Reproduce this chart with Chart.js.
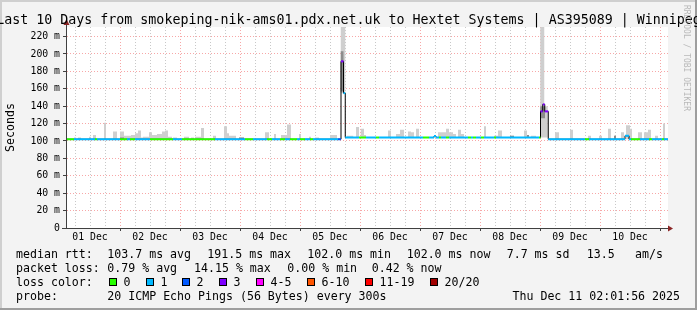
<!DOCTYPE html>
<html>
<head>
<meta charset="utf-8">
<script src="https://cdn.jsdelivr.net/npm/chart.js@4/dist/chart.umd.min.js"></script>
<style>
  html, body { margin: 0; padding: 0; background: #f3f3f3; }
  canvas { display: block; }
</style>
</head>
<body>
<canvas id="chart" width="697" height="310"></canvas>
<script>
// time axis = hours since 01 Dec 00:00
const xStart = 2.8;
const xEnd = 243.2;
const dayLabels = ['01 Dec', '02 Dec', '03 Dec', '04 Dec', '05 Dec', '06 Dec', '07 Dec', '08 Dec', '09 Dec', '10 Dec'];

// median rtt in ms, each value holds until the next hour mark
const medHours = [2.8, 5.6, 14.0, 14.8, 24.0, 26.8, 28.0, 30.0, 36.0, 45.2,
  48.8, 62.0, 74.0, 77.2, 82.8, 84.8, 88.0, 90.0, 92.0, 94.8,
  96.0, 98.0, 100.0, 101.2, 111.2, 112.4, 113.4, 114.1, 119.6, 122.4,
  126.4, 127.6, 145.2, 147.6, 149.6, 150.4, 151.6, 152.4, 154.4, 155.6,
  163.2, 164.4, 165.2, 166.4, 168.4, 169.6, 173.6, 174.4, 191.6, 192.2,
  193.1, 193.9, 195.3, 210.0, 211.6, 226.0, 227.6, 228.4, 232.0, 235.6,
  236.8, 240.8, 241.6];
const medValues = [102, 102, 102, 102, 102, 102, 102, 102, 102, 102,
  102, 102, 102, 102, 102, 102, 102, 102, 102, 102,
  102, 102, 102, 102, 102, 191.5, 155, 104, 104, 104,
  104, 104, 104, 104, 105.6, 104, 104, 104, 104, 104,
  104, 104, 104, 104, 104, 104, 104, 104, 104, 134,
  142, 134, 102, 102, 102, 106, 102, 102, 102, 102,
  102, 102, 102];
// packet loss bucket per step (index into lossColors)
const medLoss = [0, 1, 0, 1, 0, 1, 0, 1, 0, 1,
  0, 1, 0, 1, 0, 1, 0, 1, 0, 1,
  0, 1, 0, 1, 2, 3, 1, 1, 0, 1,
  0, 1, 0, 1, 1, 1, 0, 1, 0, 1,
  0, 1, 0, 1, 0, 1, 0, 1, 0, 3,
  3, 3, 1, 0, 1, 1, 1, 0, 1, 0,
  1, 0, 1];

// smoke (spread of the 20 pings), light layer
const smokeFrom = [5.6, 7.2, 11.6, 13.2, 17.6, 21.2, 24.0, 25.6, 28.4, 30.0,
  31.2, 32.4, 33.2, 35.6, 36.8, 38.8, 40.8, 42.0, 43.2, 45.2,
  49.6, 52.4, 54.0, 56.4, 61.2, 65.6, 66.8, 67.6, 71.6, 82.0,
  85.6, 88.4, 90.8, 95.6, 99.6, 102.0, 108.0, 112.3, 114.7, 118.4,
  120.3, 121.6, 131.2, 134.4, 136.0, 139.2, 140.4, 142.4, 151.2, 154.4,
  155.6, 157.2, 159.2, 160.4, 169.6, 173.6, 175.2, 180.0, 185.6, 186.8,
  188.4, 192.1, 193.7, 198.0, 204.0, 211.2, 215.6, 219.2, 221.6, 224.4,
  226.4, 228.0, 231.2, 233.6, 235.2, 238.0, 241.2];
const smokeTo = [6.4, 8.4, 12.4, 14.4, 18.4, 22.8, 25.6, 28.4, 30.0, 31.2,
  32.4, 33.2, 35.6, 36.8, 38.8, 40.8, 42.0, 43.2, 44.8, 46.8,
  51.6, 53.6, 56.4, 57.6, 62.4, 66.8, 67.6, 70.4, 73.6, 83.6,
  86.4, 90.8, 92.4, 96.4, 100.4, 103.6, 110.8, 114.1, 117.3, 119.6,
  121.6, 122.4, 132.4, 136.0, 137.6, 140.4, 141.6, 143.6, 154.4, 155.6,
  157.2, 158.4, 160.4, 161.6, 170.4, 175.2, 176.8, 181.6, 186.8, 187.6,
  190.4, 193.7, 195.1, 199.6, 205.2, 212.4, 216.8, 220.4, 222.4, 225.6,
  228.0, 228.8, 232.8, 235.2, 236.4, 239.2, 242.0];
const smokeLow = [102, 102, 102, 102, 102, 102, 102, 102, 102, 102,
  102, 102, 102, 102, 102, 102, 102, 102, 102, 102,
  102, 102, 102, 102, 102, 102, 102, 102, 102, 102,
  102, 102, 102, 102, 102, 102, 102, 155, 104, 104,
  104, 104, 104, 104, 104, 104, 104, 104, 104, 104,
  104, 104, 104, 104, 104, 104, 104, 104, 104, 104,
  104, 104, 104, 102, 102, 102, 102, 102, 102, 102,
  102, 102, 102, 102, 102, 102, 102];
const smokeTop = [104, 104, 105, 107, 121, 111, 111, 106, 107, 109,
  112, 104, 105, 110, 107, 108, 111, 112, 105, 104,
  105, 104, 105, 115, 106, 117, 109, 106, 104, 110,
  108, 107, 119, 108, 105, 104, 107, 232, 106, 116,
  114, 107, 112, 108, 113, 111, 110, 114, 110, 114,
  110, 108, 113, 108, 117, 106, 112, 106, 112, 107,
  106, 232, 140, 110, 113, 106, 106, 114, 106, 110,
  118, 114, 110, 110, 113, 106, 120];

// darker smoke near the median
const darkFrom = [24.0, 71.6, 112.3, 180.0, 186.8, 192.1, 221.6];
const darkTo = [25.6, 73.6, 113.4, 181.6, 187.6, 194.0, 222.4];
const darkLow = [102, 102, 157, 104, 104, 126, 102];
const darkTop = [104, 104, 203, 106, 107, 140, 106];

const lossColors = ['#26ff00', '#00b8ff', '#0059ff', '#7e00ff', '#ff00ff', '#ff5500', '#ff0000', '#a10000'];
const lossLabels = ['0', '1', '2', '3', '4-5', '6-10', '11-19', '20/20'];

const rttStats = ['103.7 ms avg', '191.5 ms max', '102.0 ms min', '102.0 ms now', '7.7 ms sd', '13.5', 'am/s'];
const lossStats = ['0.79 % avg', '14.15 % max', '0.00 % min', '0.42 % now'];
const titleText = 'Last 10 Days from smokeping-nik-ams01.pdx.net.uk to Hextet Systems | AS395089 | Winnipeg';
const probeText = '20 ICMP Echo Pings (56 Bytes) every 300s';
const stampText = 'Thu Dec 11 02:01:56 2025';

const MONO = '"DejaVu Sans Mono", monospace';

// outline of rectangles, used for the filled smoke layers
function boxLine(from, to, low, high) {
  const pts = [];
  from.forEach((f, i) => {
    const top = high ? high[i] : low[i];
    pts.push({ x: f, y: low[i] }, { x: f, y: top }, { x: to[i], y: top }, { x: to[i], y: low[i] });
  });
  return pts;
}

// each median step as its own horizontal piece
const runPts = [];
medHours.forEach((h, i) => {
  const end = i + 1 < medHours.length ? medHours[i + 1] : xEnd;
  runPts.push({ x: h, y: medValues[i] }, { x: end, y: medValues[i] });
});
const stepPts = medHours.map((h, i) => ({ x: h, y: medValues[i] }));
stepPts.push({ x: xEnd, y: medValues[medValues.length - 1] });

const deco = {
  id: 'deco',
  beforeDraw(chart) {
    const { ctx, chartArea: a } = chart;
    ctx.save();
    ctx.fillStyle = '#f3f3f3';
    ctx.fillRect(0, 0, chart.width, chart.height);
    ctx.fillStyle = '#cfcfcf';
    ctx.fillRect(0, 0, chart.width, 2);
    ctx.fillRect(0, 0, 2, chart.height);
    ctx.fillStyle = '#9e9e9e';
    ctx.fillRect(0, chart.height - 2, chart.width, 2);
    ctx.fillRect(chart.width - 2, 0, 2, chart.height);
    ctx.fillStyle = '#ffffff';
    ctx.fillRect(a.left, a.top, a.right - a.left, a.bottom - a.top);
    ctx.restore();
  },
  afterDatasetsDraw(chart) {
    const { ctx, chartArea: a } = chart;
    ctx.save();
    ctx.strokeStyle = '#404040';
    ctx.lineWidth = 1;
    ctx.beginPath();
    ctx.moveTo(a.left - 0.5, a.bottom + 0.5);
    ctx.lineTo(a.left - 0.5, a.top - 5);
    ctx.moveTo(a.left - 5, a.bottom + 0.5);
    ctx.lineTo(a.right + 2, a.bottom + 0.5);
    ctx.stroke();
    ctx.fillStyle = '#8b2525';
    ctx.beginPath();
    ctx.moveTo(a.left - 0.5, a.top - 8);
    ctx.lineTo(a.left - 3.5, a.top - 2);
    ctx.lineTo(a.left + 2.5, a.top - 2);
    ctx.fill();
    ctx.beginPath();
    ctx.moveTo(a.right + 5, a.bottom + 0.5);
    ctx.lineTo(a.right, a.bottom - 2.5);
    ctx.lineTo(a.right, a.bottom + 3.5);
    ctx.fill();
    ctx.restore();
  },
  afterDraw(chart) {
    const ctx = chart.ctx;
    ctx.save();
    ctx.fillStyle = '#000';
    ctx.textBaseline = 'alphabetic';
    ctx.font = '13.3px ' + MONO;
    ctx.textAlign = 'center';
    ctx.fillText(titleText, chart.width / 2, 24);

    ctx.textAlign = 'left';
    ctx.font = '11.6px ' + MONO;
    const rows = [257.5, 271.5, 285.5, 299.5];
    ctx.fillText('median rtt:', 16, rows[0]);
    [107.3, 207.3, 307.3, 406.7, 506.7, 586.7, 635].forEach((x, i) => ctx.fillText(rttStats[i], x, rows[0]));
    ctx.fillText('packet loss:', 16, rows[1]);
    [107.3, 194, 287.3, 371.7].forEach((x, i) => ctx.fillText(lossStats[i], x, rows[1]));
    ctx.fillText('loss color:', 16, rows[2]);
    [109, 146, 182, 219, 256, 307, 365, 430].forEach((x, i) => {
      ctx.fillStyle = lossColors[i];
      ctx.fillRect(x, 278, 8, 8);
      ctx.strokeStyle = '#000';
      ctx.lineWidth = 1;
      ctx.strokeRect(x + 0.5, 278.5, 7, 7);
      ctx.fillStyle = '#000';
      ctx.fillText(lossLabels[i], x + 14.5, rows[2]);
    });
    ctx.fillText('probe:', 16, rows[3]);
    ctx.fillText(probeText, 107.3, rows[3]);
    ctx.textAlign = 'right';
    ctx.fillText(stampText, 680, rows[3]);

    ctx.translate(686.5, 5);
    ctx.rotate(Math.PI / 2);
    ctx.textAlign = 'left';
    ctx.textBaseline = 'middle';
    ctx.font = '8px ' + MONO;
    ctx.fillStyle = '#b8b8b8';
    ctx.fillText('RRDTOOL / TOBI OETIKER', 0, 0);
    ctx.restore();
  }
};

new Chart(document.getElementById('chart'), {
  type: 'line',
  data: {
    datasets: [
      {
        data: runPts,
        borderWidth: 2,
        borderColor: lossColors[1],
        segment: {
          borderColor: c => c.p0DataIndex % 2 === 0 ? lossColors[medLoss[c.p0DataIndex / 2]] : 'rgba(0,0,0,0)'
        },
        fill: false,
        order: 0
      },
      {
        data: stepPts,
        stepped: 'before',
        borderWidth: 1,
        borderColor: '#000000',
        fill: false,
        order: 1
      },
      {
        data: boxLine(darkFrom, darkTo, darkLow, darkTop),
        borderColor: 'rgba(0,0,0,0)',
        backgroundColor: '#8c8c8c',
        fill: 3,
        order: 2
      },
      {
        data: boxLine(darkFrom, darkTo, darkLow, null),
        borderColor: 'rgba(0,0,0,0)',
        fill: false,
        order: 3
      },
      {
        data: boxLine(smokeFrom, smokeTo, smokeLow, smokeTop),
        borderColor: 'rgba(0,0,0,0)',
        backgroundColor: '#cfcfcf',
        fill: 5,
        order: 4
      },
      {
        data: boxLine(smokeFrom, smokeTo, smokeLow, null),
        borderColor: 'rgba(0,0,0,0)',
        fill: false,
        order: 5
      }
    ]
  },
  options: {
    responsive: false,
    animation: false,
    events: [],
    layout: { padding: { top: 27, right: 29, left: 0, bottom: 0 } },
    elements: { point: { radius: 0 }, line: { tension: 0, borderCapStyle: 'butt' } },
    plugins: {
      legend: { display: false },
      tooltip: { enabled: false },
      title: { display: false }
    },
    scales: {
      x: {
        type: 'linear',
        min: xStart,
        max: xEnd,
        afterFit: s => { s.height = 82; },
        afterBuildTicks: s => {
          const t = [];
          for (let h = 6; h <= 240; h += 6) t.push({ value: h });
          s.ticks = t;
        },
        ticks: {
          autoSkip: false,
          maxRotation: 0,
          padding: 1,
          color: '#000',
          font: { family: MONO, size: 9.8 },
          callback: v => v % 24 === 12 ? dayLabels[(v - 12) / 24] : ''
        },
        grid: {
          color: c => c.tick && c.tick.value % 24 === 0 ? 'rgba(240,80,80,0.5)' : '#c8c8c8',
          tickColor: c => c.tick && c.tick.value % 24 === 0 ? '#404040' : 'rgba(0,0,0,0)',
          tickLength: 3,
          lineWidth: 1
        },
        border: { display: false, dash: [1, 2] }
      },
      y: {
        min: 0,
        max: 231,
        afterFit: s => { s.width = 67; },
        afterBuildTicks: s => {
          const t = [];
          for (let v = 0; v <= 220; v += 10) t.push({ value: v });
          s.ticks = t;
        },
        title: {
          display: true,
          text: 'Seconds',
          color: '#000',
          font: { family: MONO, size: 11.6 },
          padding: { top: 4, bottom: 4 }
        },
        ticks: {
          padding: 3,
          color: '#000',
          font: { family: MONO, size: 9.8 },
          callback: v => v % 20 !== 0 ? '' : (v === 0 ? '0' : v + ' m')
        },
        grid: {
          color: c => {
            const v = c.tick ? c.tick.value : 0;
            if (v === 0) return 'rgba(0,0,0,0)';
            return v % 20 === 0 ? 'rgba(240,80,80,0.5)' : '#c8c8c8';
          },
          tickColor: '#404040',
          tickLength: 4,
          lineWidth: 1
        },
        border: { display: false, dash: [1, 2] }
      }
    }
  },
  plugins: [deco]
});
</script>
</body>
</html>
